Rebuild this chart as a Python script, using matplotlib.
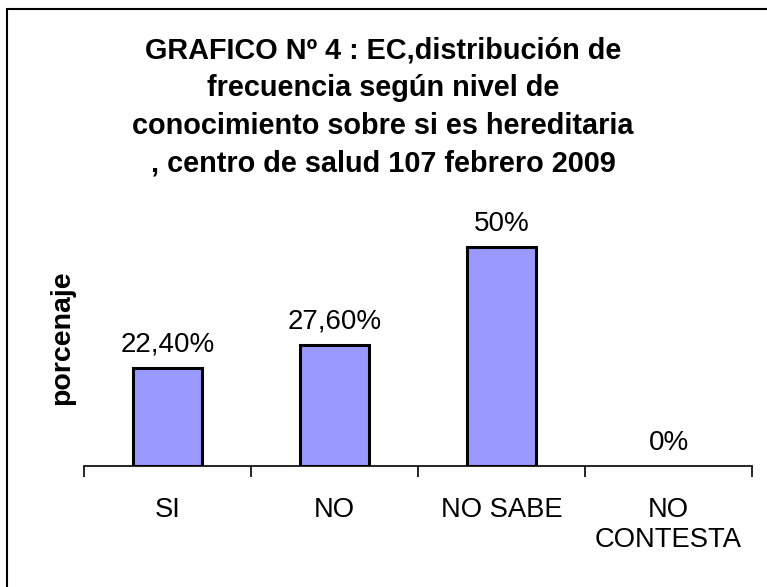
import matplotlib
matplotlib.use('Agg')
import matplotlib.pyplot as plt
import matplotlib as mpl
from matplotlib.patches import Rectangle

mpl.rcParams['font.family'] = ['Liberation Sans', 'DejaVu Sans']

# data
categorias = ['SI', 'NO', 'NO SABE', 'NO\nCONTESTA']
porcentajes = [22.4, 27.6, 50.0, 0.0]
etiquetas = ['22,40%', '27,60%', '50%', '0%']
titulo = ('GRAFICO Nº 4 : EC,distribución de\nfrecuencia según nivel de\n'
          'conocimiento sobre si es hereditaria\n, centro de salud 107 febrero 2009')

fig = plt.figure(figsize=(7.67, 5.87), dpi=100)
fig.patch.set_facecolor('white')

# frame (only left and top visible in the reference)
fig.patches.append(Rectangle((7 / 767, -0.1), 1.2, 1 - 9 / 587 + 0.1,
                             transform=fig.transFigure, fill=False,
                             edgecolor='black', lw=1.5))

ax = fig.add_axes([84 / 767, 1 - 466 / 587, 668 / 767, 266 / 587])
x = range(len(categorias))
# zero-height bars get no outline
anchos_borde = [2.2 if v > 0 else 0 for v in porcentajes]
ax.bar(x, porcentajes, width=0.41, color='#9999FF', edgecolor='black',
       linewidth=anchos_borde)
ax.set_xlim(-0.5, len(categorias) - 0.5)
ax.set_ylim(0, 60.6)

for xi, v, t in zip(x, porcentajes, etiquetas):
    ax.annotate(t, (xi, v), xytext=(0, 11.5), textcoords='offset points',
                ha='center', va='baseline', fontsize=20)

for s in ['top', 'right', 'left']:
    ax.spines[s].set_visible(False)
ax.spines['bottom'].set_linewidth(1.2)
ax.set_yticks([])
ax.set_xticks([i - 0.5 for i in range(len(categorias) + 1)])
ax.set_xticklabels([])
ax.set_xticks(list(x), minor=True)
ax.set_xticklabels(categorias, minor=True, fontsize=19.7, linespacing=1.2)
ax.tick_params(axis='x', which='major', length=8, width=1.2, direction='out')
ax.tick_params(axis='x', which='minor', length=0, pad=22)

fig.text(62 / 767, 1 - 338 / 587, 'porcenaje', rotation=90, ha='center',
         va='center', fontsize=20.5, fontweight='bold')
fig.text(383 / 767, 1 - 107 / 587, titulo, ha='center', va='center',
         fontsize=20.8, fontweight='bold', linespacing=1.43)

fig.savefig('out.png', dpi=100)
